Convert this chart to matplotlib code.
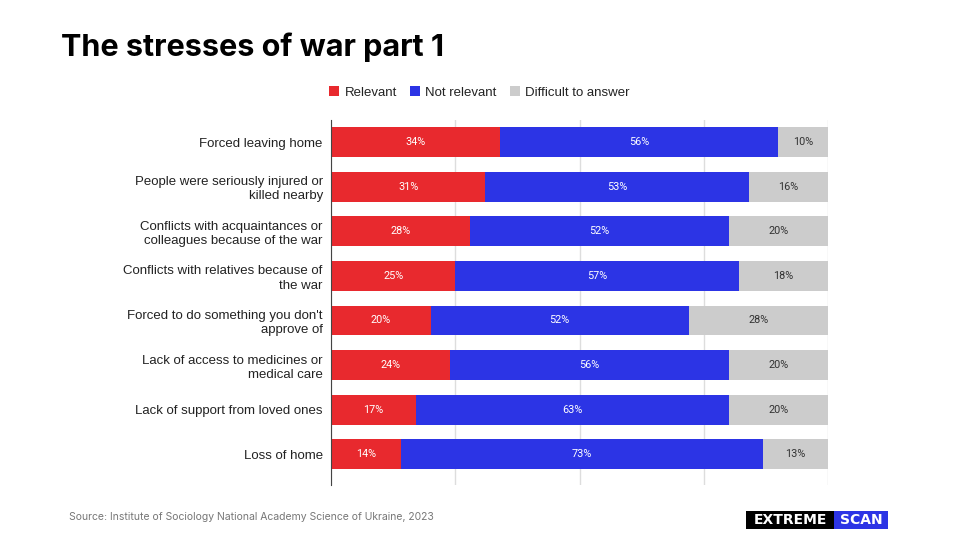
import matplotlib.pyplot as plt
from matplotlib.patches import Rectangle

plt.rcParams['font.family'] = ['Liberation Sans', 'DejaVu Sans']

categories = [
    'Forced leaving home',
    'People were seriously injured or\nkilled nearby',
    'Conflicts with acquaintances or\ncolleagues because of the war',
    'Conflicts with relatives because of\nthe war',
    "Forced to do something you don't\napprove of",
    'Lack of access to medicines or\nmedical care',
    'Lack of support from loved ones',
    'Loss of home',
]
relevant = [34, 31, 28, 25, 20, 24, 17, 14]
not_relevant = [56, 53, 52, 57, 52, 56, 63, 73]
difficult = [10, 16, 20, 18, 28, 20, 20, 13]

series = [
    ('Relevant', relevant, '#E8292E', 'white'),
    ('Not relevant', not_relevant, '#2C34E5', 'white'),
    ('Difficult to answer', difficult, '#CCCCCC', '#333333'),
]

fig = plt.figure(figsize=(9.6, 5.4), dpi=100)
ax = fig.add_axes([0.345, 0.102, 0.5175, 0.676])

y = list(range(len(categories)))
left = [0] * len(categories)
for name, vals, color, tcolor in series:
    bars = ax.barh(y, vals, left=left, height=0.67, color=color, label=name, zorder=3)
    for b, v in zip(bars, vals):
        ax.text(b.get_x() + b.get_width() / 2, b.get_y() + b.get_height() / 2,
                f'{v}%', ha='center', va='center', color=tcolor, fontsize=7.8,
                family=['Roboto', 'DejaVu Sans'], zorder=4)
    left = [l + v for l, v in zip(left, vals)]

ax.set_xlim(0, 100)
ax.set_ylim(7.69, -0.5)
ax.set_yticks(y)
ax.set_yticklabels(categories, fontsize=9.5, color='#222222', linespacing=1.25)
ax.set_xticks([0, 25, 50, 75, 100])
ax.set_xticklabels([])
ax.tick_params(axis='both', length=0)
ax.tick_params(axis='y', pad=6)
ax.grid(axis='x', color='#DDDDDD', linewidth=1, zorder=0)
for s in ['top', 'right', 'bottom']:
    ax.spines[s].set_visible(False)
ax.spines['left'].set_color('#444444')
ax.spines['left'].set_zorder(5)

leg = fig.legend(loc='center', bbox_to_anchor=(0.4995, 0.829), ncol=3, frameon=False,
                 fontsize=9.5, handlelength=0.75, handleheight=0.75, handletextpad=0.4,
                 columnspacing=1.0)
for t in leg.get_texts():
    t.set_color('#222222')

fig.text(0.064, 0.912, 'The stresses of war part 1', fontsize=22, fontweight='bold',
         family=['Inter', 'DejaVu Sans'], va='center', color='black')
fig.text(0.072, 0.042, 'Source: Institute of Sociology National Academy Science of Ukraine, 2023',
         fontsize=7.5, color='#777777', va='center', family=['Inter', 'DejaVu Sans'])

# logo
fig.patches.append(Rectangle((746 / 960, 11 / 540), 88 / 960, 18 / 540,
                             transform=fig.transFigure, fc='black', ec='none'))
fig.patches.append(Rectangle((834 / 960, 11 / 540), 54 / 960, 18 / 540,
                             transform=fig.transFigure, fc='#2C34E5', ec='none'))
fig.text(790 / 960, 20 / 540, 'EXTREME', fontsize=10, fontweight='bold', color='white',
         va='center', ha='center', family=['DejaVu Sans'])
fig.text(861 / 960, 20 / 540, 'SCAN', fontsize=10, fontweight='bold', color='white',
         va='center', ha='center', family=['DejaVu Sans'])

fig.savefig('out.png', dpi=100)
